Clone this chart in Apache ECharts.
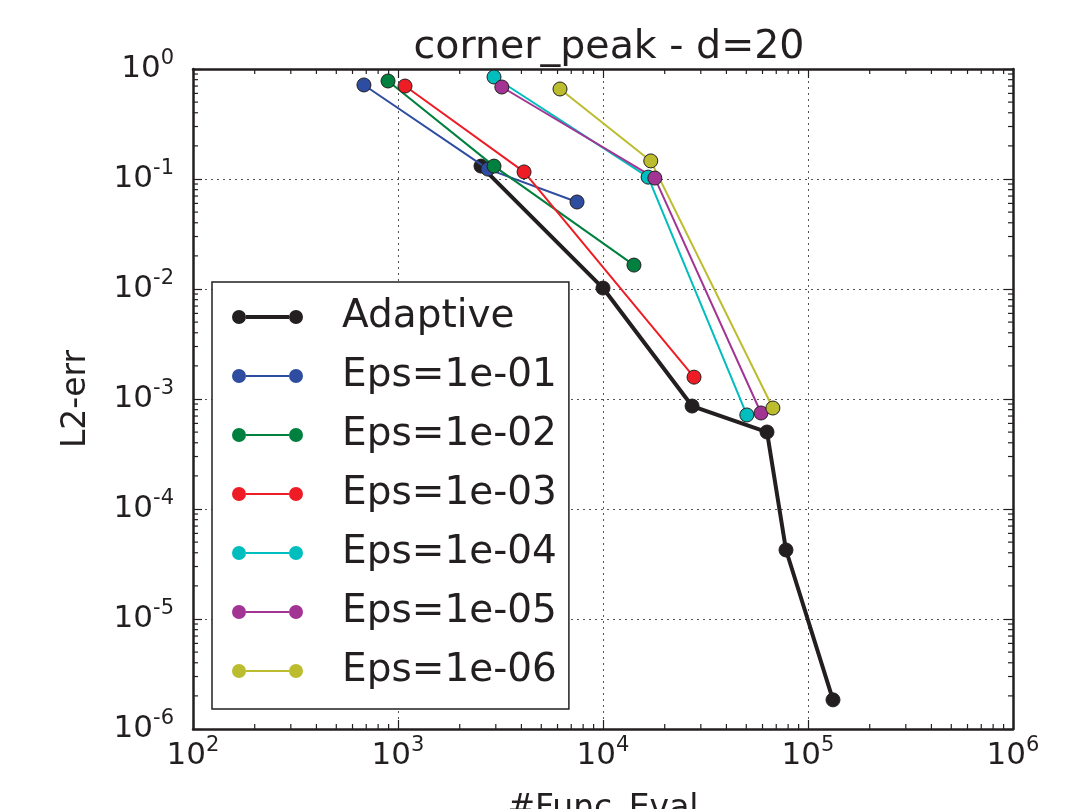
<!DOCTYPE html>
<html>
<head>
<meta charset="utf-8">
<script src="https://cdn.jsdelivr.net/npm/echarts@6/dist/echarts.min.js"></script>
<style>html,body{margin:0;padding:0;background:#fff;}#c{width:1081px;height:809px;}</style>
</head>
<body>
<div id="c"></div>
<script>
const seriesNames = ['Adaptive','Eps=1e-01','Eps=1e-02','Eps=1e-03','Eps=1e-04','Eps=1e-05','Eps=1e-06'];
const seriesColors = ['#231f20','#2e4da0','#00803e','#ee1c25','#00bebe','#a23594','#bcbc2f'];
const adaptiveX = [2540, 10000, 27200, 63100, 78100, 132400];
const adaptiveY = [0.131, 0.0102, 0.000863, 0.000501, 4.24e-5, 1.84e-6];
const eps1X = [682, 2747, 7470];   const eps1Y = [0.716, 0.123, 0.0618];
const eps2X = [894, 2940, 14160];  const eps2Y = [0.778, 0.131, 0.0165];
const eps3X = [1082, 4120, 27800]; const eps3Y = [0.700, 0.116, 0.00158];
const eps4X = [2940, 16600, 50300]; const eps4Y = [0.846, 0.104, 0.000716];
const eps5X = [3210, 17900, 59000]; const eps5Y = [0.686, 0.102, 0.000746];
const eps6X = [6170, 17100, 67400]; const eps6Y = [0.658, 0.146, 0.000828];
const xDecades = [100, 1000, 10000, 100000, 1000000];
const yDecades = [1e-6, 1e-5, 1e-4, 1e-3, 1e-2, 1e-1, 1];

const allX = [adaptiveX, eps1X, eps2X, eps3X, eps4X, eps5X, eps6X];
const allY = [adaptiveY, eps1Y, eps2Y, eps3Y, eps4Y, eps5Y, eps6Y];

const FONT = 'DejaVu Sans';
const TXT = '#231f20';

// minor tick positions (2..9 x decade) — axis decoration only
const xMinor = [], yMinor = [];
for (let i = 0; i < xDecades.length - 1; i++) for (let m = 2; m <= 9; m++) xMinor.push([xDecades[i] * m, 1e-3]);
for (let i = 0; i < yDecades.length - 1; i++) for (let m = 2; m <= 9; m++) yMinor.push([1000, yDecades[i] * m]);

const chart = echarts.init(document.getElementById('c'), null, {renderer: 'canvas'});

const labelRich = {
  b: {fontSize: 31, fontFamily: FONT, color: TXT},
  s: {fontSize: 21, fontFamily: FONT, color: TXT, padding: [0, 0, 20, 0]}
};
function fmt(v) { return '{b|10}{s|' + Math.round(Math.log10(v)) + '}'; }

const lineSeries = seriesNames.map((name, i) => ({
  name: name,
  type: 'line',
  xAxisIndex: 0, yAxisIndex: 0,
  data: allX[i].map((x, j) => [x, allY[i][j]]),
  symbol: 'circle',
  symbolSize: 14,
  z: i === 0 ? 2 : 3,
  lineStyle: {color: seriesColors[i], width: i === 0 ? 4 : 2},
  itemStyle: {color: seriesColors[i], borderColor: '#231f20', borderWidth: 1, opacity: 1},
  emphasis: {disabled: true},
  animation: false
}));

function tickRenderer(isX) {
  return function (params, api) {
    const cs = params.coordSys;
    const p = api.coord([api.value(0), api.value(1)]);
    const len = 5;
    const style = {stroke: '#231f20', lineWidth: 1.2};
    if (isX) {
      const b = cs.y + cs.height, t = cs.y;
      return {type: 'group', children: [
        {type: 'line', shape: {x1: p[0], y1: b, x2: p[0], y2: b - len}, style: style},
        {type: 'line', shape: {x1: p[0], y1: t, x2: p[0], y2: t + len}, style: style}
      ]};
    } else {
      const l = cs.x, r = cs.x + cs.width;
      return {type: 'group', children: [
        {type: 'line', shape: {x1: l, y1: p[1], x2: l + len, y2: p[1]}, style: style},
        {type: 'line', shape: {x1: r, y1: p[1], x2: r - len, y2: p[1]}, style: style}
      ]};
    }
  };
}

const legendIcon = (h) => 'path://M0,7a7,7 0 1,0 14,0a7,7 0 1,0 -14,0z M57,7a7,7 0 1,0 14,0a7,7 0 1,0 -14,0z M14,' + (7 - h / 2) + 'h43v' + h + 'h-43z';

const option = {
  backgroundColor: '#fff',
  animation: false,
  title: {
    text: 'corner_peak - d=20',
    left: 604, top: 23, textAlign: 'center',
    textStyle: {fontFamily: FONT, fontSize: 39.5, fontWeight: 'normal', color: TXT}
  },
  grid: {left: 193, right: 68, top: 69, bottom: 80, containLabel: false, outerBoundsMode: 'none'},
  legend: {
    orient: 'vertical',
    left: 212, top: 282,
    padding: [15, 12, 18, 20],
    itemWidth: 71, itemHeight: 14,
    itemGap: 19,
    borderColor: '#231f20', borderWidth: 1.5, borderRadius: 0,
    backgroundColor: '#fff',
    selectedMode: false,
    data: seriesNames.map((n, i) => ({name: n, icon: legendIcon(i === 0 ? 4 : 2), itemStyle: {color: seriesColors[i], borderWidth: 0}})),
    textStyle: {fontFamily: FONT, fontSize: 39, color: TXT, lineHeight: 40, padding: [0, 0, 0, 34]}
  },
  xAxis: [{
    type: 'log', logBase: 10, min: 100, max: 1000000,
    position: 'bottom',
    name: '#Func_Eval', nameLocation: 'middle', nameGap: 64,
    nameTextStyle: {fontFamily: FONT, fontSize: 33, color: TXT},
    axisLine: {show: true, onZero: false, lineStyle: {color: '#231f20', width: 2.5}},
    axisTick: {show: true, inside: true, length: 9, lineStyle: {color: '#231f20', width: 1.2}},
    axisLabel: {margin: 6, formatter: fmt, rich: labelRich},
    splitLine: {show: true, lineStyle: {color: '#555', width: 1, type: [2, 4]}}
  }, {
    type: 'log', logBase: 10, min: 100, max: 1000000,
    position: 'top',
    axisLine: {show: true, onZero: false, lineStyle: {color: '#231f20', width: 2.5}},
    axisTick: {show: true, inside: true, length: 9, lineStyle: {color: '#231f20', width: 1.2}},
    axisLabel: {show: false},
    splitLine: {show: false}
  }],
  yAxis: [{
    type: 'log', logBase: 10, min: 1e-6, max: 1,
    position: 'left',
    name: 'L2-err', nameLocation: 'middle', nameGap: 100, nameRotate: 90,
    nameTextStyle: {fontFamily: FONT, fontSize: 33, color: TXT},
    axisLine: {show: true, onZero: false, lineStyle: {color: '#231f20', width: 2.5}},
    axisTick: {show: true, inside: true, length: 9, lineStyle: {color: '#231f20', width: 1.2}},
    axisLabel: {margin: 19, formatter: fmt, rich: labelRich},
    splitLine: {show: true, lineStyle: {color: '#555', width: 1, type: [2, 4]}}
  }, {
    type: 'log', logBase: 10, min: 1e-6, max: 1,
    position: 'right',
    axisLine: {show: true, onZero: false, lineStyle: {color: '#231f20', width: 2.5}},
    axisTick: {show: true, inside: true, length: 9, lineStyle: {color: '#231f20', width: 1.2}},
    axisLabel: {show: false},
    splitLine: {show: false}
  }],
  series: lineSeries.concat([
    {type: 'custom', name: 'xminor', silent: true, xAxisIndex: 0, yAxisIndex: 0, data: xMinor, renderItem: tickRenderer(true), clip: false, z: 1},
    {type: 'custom', name: 'yminor', silent: true, xAxisIndex: 0, yAxisIndex: 0, data: yMinor, renderItem: tickRenderer(false), clip: false, z: 1}
  ])
};
chart.setOption(option);
</script>
</body>
</html>
